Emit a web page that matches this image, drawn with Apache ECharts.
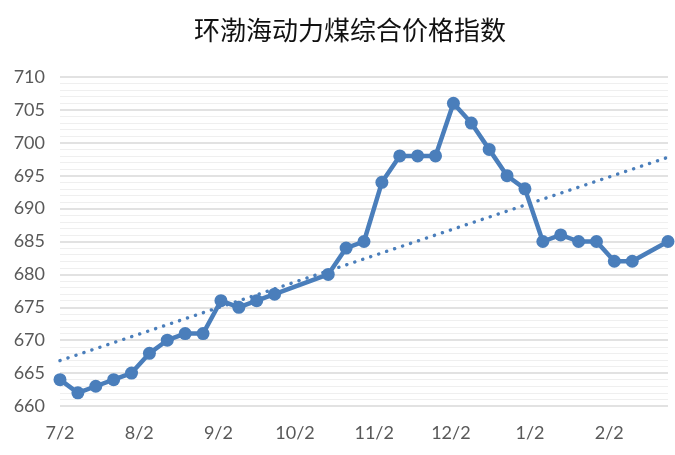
<!DOCTYPE html>
<html><head><meta charset="utf-8">
<script src="https://cdn.jsdelivr.net/npm/echarts@6/dist/echarts.min.js"></script>
<style>html,body{margin:0;padding:0;background:#fff}#c{width:675px;height:455px}</style>
</head><body><div id="c"></div>
<script>
// weekly dates of the index
var dates = ["2017-07-02","2017-07-09","2017-07-16","2017-07-23","2017-07-30","2017-08-06","2017-08-13","2017-08-20","2017-08-27","2017-09-03","2017-09-10","2017-09-17","2017-09-24","2017-10-15","2017-10-22","2017-10-29","2017-11-05","2017-11-12","2017-11-19","2017-11-26","2017-12-03","2017-12-10","2017-12-17","2017-12-24","2017-12-31","2018-01-07","2018-01-14","2018-01-21","2018-01-28","2018-02-04","2018-02-11","2018-02-25"];
var values = [664,662,663,664,665,668,670,671,671,676,675,676,677,680,684,685,694,698,698,698,706,703,699,695,693,685,686,685,685,682,682,685];
// linear trend line read at the axis ends
var trendDates = ["2017-07-02","2018-02-25"];
var trendValues = [666.9,697.8];
var tickDates = ["2017-07-02","2017-08-02","2017-09-02","2017-10-02","2017-11-02","2017-12-02","2018-01-02","2018-02-02"];
var tickLabels = ["7/2","8/2","9/2","10/2","11/2","12/2","1/2","2/2"];
var yTicks = [660,665,670,675,680,685,690,695,700,705,710];

var DAY = 86400000;
var t0 = Date.parse(dates[0] + "T00:00:00Z");
function dayOf(s){ return Math.round((Date.parse(s + "T00:00:00Z") - t0) / DAY); }
var tickPos = tickDates.map(dayOf);
var labelMap = {};
tickPos.forEach(function(p,i){ labelMap[p] = tickLabels[i]; });
var lineData = dates.map(function(d,i){ return [dayOf(d), values[i]]; });
var trendData = trendDates.map(function(d,i){ return [dayOf(d), trendValues[i]]; });
var xMax = dayOf(trendDates[1]);

var color = "#4a7ebb";
var chart = echarts.init(document.getElementById('c'));
chart.setOption({
  animation:false,
  title:{text:"环渤海动力煤综合价格指数", left:189, top:12,
    textStyle:{fontFamily:"Noto Sans CJK SC", fontWeight:'normal', fontSize:26, color:'#111'}},
  grid:{left:60, right:7, top:77, bottom:49},
  xAxis:{type:'value', min:0, max:xMax,
    axisLine:{show:false}, axisTick:{show:false}, splitLine:{show:false},
    axisLabel:{customValues:tickPos, formatter:function(v){ return labelMap[v] || ''; },
      color:'#595959', fontSize:18, fontFamily:'Lato', margin:18}},
  yAxis:{type:'value', min:yTicks[0], max:yTicks[yTicks.length-1], interval:5,
    axisLine:{show:false}, axisTick:{show:false},
    axisLabel:{color:'#595959', fontSize:18, fontFamily:'Lato', margin:15},
    splitLine:{lineStyle:{color:'#d9d9d9', width:1.5}},
    minorTick:{show:false, splitNumber:5},
    minorSplitLine:{show:true, lineStyle:{color:'#efefef', width:1}}},
  series:[
    {type:'line', data:trendData, symbol:'none', silent:true, z:1,
      lineStyle:{color:color, width:3.4, type:[0.1,8.3], cap:'round'}},
    {type:'line', data:lineData, symbol:'circle', symbolSize:13, showAllSymbol:true, z:2,
      itemStyle:{color:color}, lineStyle:{color:color, width:4.5}}
  ]
});
</script></body></html>
